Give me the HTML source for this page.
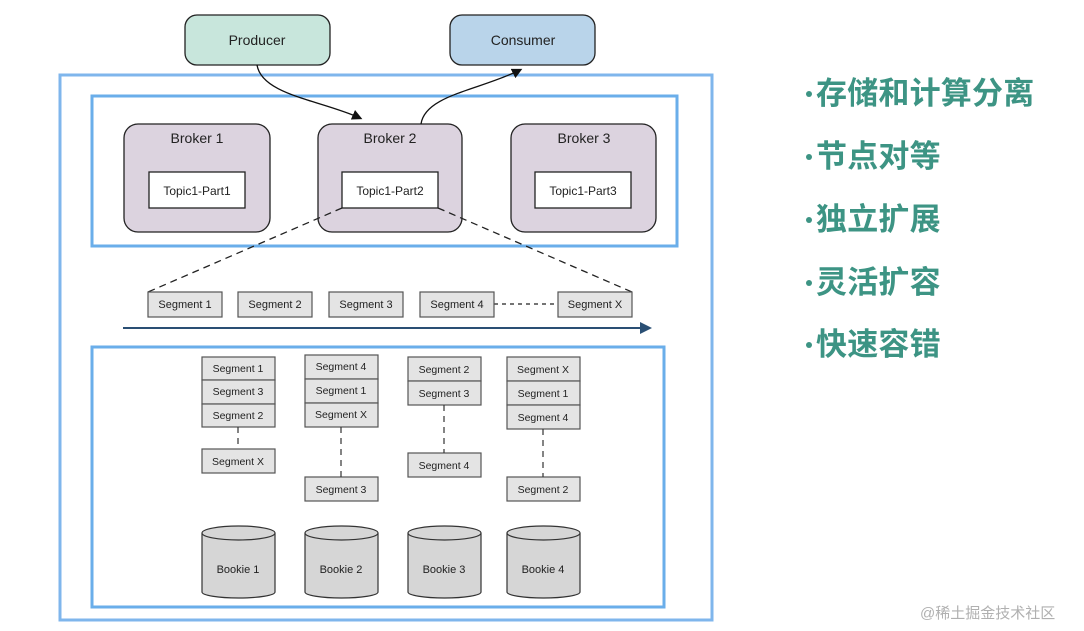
<!DOCTYPE html>
<html><head><meta charset="utf-8"><style>
html,body{margin:0;padding:0;background:#fff;width:1084px;height:631px;overflow:hidden}
svg{display:block}
.t{font-family:"Liberation Sans",sans-serif;fill:#222}
.cn{font-family:"Liberation Sans","Noto Sans CJK SC",sans-serif;font-weight:bold;fill:#3d9484;font-size:31px;letter-spacing:0.2px}
</style></head><body>
<svg width="1084" height="631" viewBox="0 0 1084 631">
<defs><marker id="ah" markerWidth="8" markerHeight="8" refX="6" refY="4" orient="auto"><path d="M0,0 L8,4 L0,8 z" fill="#111"/></marker>
<marker id="ab" markerWidth="6" markerHeight="6" refX="5" refY="3" orient="auto"><path d="M0,0 L6,3 L0,6 z" fill="#2a4f74"/></marker></defs>
<rect x="185" y="15" width="145" height="50" rx="12" fill="#c8e6dc" stroke="#222" stroke-width="1.3"/>
<text class="t" x="257" y="45" font-size="14" text-anchor="middle">Producer</text>
<rect x="450" y="15" width="145" height="50" rx="12" fill="#b9d4ea" stroke="#222" stroke-width="1.3"/>
<text class="t" x="523" y="45" font-size="14" text-anchor="middle">Consumer</text>
<rect x="60" y="75" width="652" height="545" fill="none" stroke="#7fb6ec" stroke-width="3"/>
<rect x="92" y="96" width="585" height="150" fill="none" stroke="#6aaeea" stroke-width="3"/>
<g stroke="#222" stroke-width="1.3">
<rect x="124" y="124" width="146" height="108" rx="14" fill="#dcd3df"/>
<rect x="318" y="124" width="144" height="108" rx="14" fill="#dcd3df"/>
<rect x="511" y="124" width="145" height="108" rx="14" fill="#dcd3df"/>
<rect x="149" y="172" width="96" height="36" fill="#fff"/>
<rect x="342" y="172" width="96" height="36" fill="#fff"/>
<rect x="535" y="172" width="96" height="36" fill="#fff"/>
</g>
<g class="t" font-size="14" text-anchor="middle">
<text x="197" y="143">Broker 1</text><text x="390" y="143">Broker 2</text><text x="584" y="143">Broker 3</text>
</g>
<g class="t" font-size="12" text-anchor="middle">
<text x="197" y="195">Topic1-Part1</text><text x="390" y="195">Topic1-Part2</text><text x="583" y="195">Topic1-Part3</text>
</g>
<path d="M257,65 C262,95 320,100 360,118" fill="none" stroke="#111" stroke-width="1.3" marker-end="url(#ah)"/>
<path d="M421,124 C425,95 480,90 520,70" fill="none" stroke="#111" stroke-width="1.3" marker-end="url(#ah)"/>
<g stroke="#222" stroke-width="1.3" stroke-dasharray="7,5" fill="none">
<line x1="342" y1="208" x2="148" y2="292"/>
<line x1="438" y1="208" x2="632" y2="292"/>
<line x1="494" y1="304" x2="558" y2="304" stroke-dasharray="4,4"/>
</g>
<g stroke="#555" stroke-width="1.2" fill="#e4e4e4">
<rect x="148" y="292" width="74" height="25"/><rect x="238" y="292" width="74" height="25"/>
<rect x="329" y="292" width="74" height="25"/><rect x="420" y="292" width="74" height="25"/>
<rect x="558" y="292" width="74" height="25"/>
</g>
<g class="t" font-size="11" text-anchor="middle">
<text x="185" y="308">Segment 1</text><text x="275" y="308">Segment 2</text><text x="366" y="308">Segment 3</text><text x="457" y="308">Segment 4</text><text x="595" y="308">Segment X</text>
</g>
<line x1="123" y1="328" x2="650" y2="328" stroke="#2a4f74" stroke-width="2" marker-end="url(#ab)"/>
<rect x="92" y="347" width="572" height="260" fill="none" stroke="#6aaeea" stroke-width="3"/>
<g stroke="#555" stroke-width="1.2" fill="#e4e4e4">
<rect x="202" y="357" width="73" height="23"/><rect x="202" y="380" width="73" height="24"/><rect x="202" y="404" width="73" height="23"/>
<rect x="202" y="449" width="73" height="24"/>
<rect x="305" y="355" width="73" height="24"/><rect x="305" y="379" width="73" height="24"/><rect x="305" y="403" width="73" height="24"/>
<rect x="305" y="477" width="73" height="24"/>
<rect x="408" y="357" width="73" height="24"/><rect x="408" y="381" width="73" height="24"/>
<rect x="408" y="453" width="73" height="24"/>
<rect x="507" y="357" width="73" height="24"/><rect x="507" y="381" width="73" height="24"/><rect x="507" y="405" width="73" height="24"/>
<rect x="507" y="477" width="73" height="24"/>
</g>
<g stroke="#333" stroke-width="1.2" stroke-dasharray="6,5">
<line x1="238" y1="427" x2="238" y2="449"/><line x1="341" y1="427" x2="341" y2="477"/>
<line x1="444" y1="405" x2="444" y2="453"/><line x1="543" y1="429" x2="543" y2="477"/>
</g>
<g class="t" font-size="10.5" text-anchor="middle">
<text x="238" y="372">Segment 1</text><text x="238" y="395">Segment 3</text><text x="238" y="419">Segment 2</text><text x="238" y="465">Segment X</text>
<text x="341" y="370">Segment 4</text><text x="341" y="394">Segment 1</text><text x="341" y="418">Segment X</text><text x="341" y="493">Segment 3</text>
<text x="444" y="373">Segment 2</text><text x="444" y="397">Segment 3</text><text x="444" y="469">Segment 4</text>
<text x="543" y="373">Segment X</text><text x="543" y="397">Segment 1</text><text x="543" y="421">Segment 4</text><text x="543" y="493">Segment 2</text>
</g>
<g stroke="#333" stroke-width="1.2" fill="#d6d6d6">
<path d="M202,533 V592 A36.5,6 0 0 0 275,592 V533"/><ellipse cx="238.5" cy="533" rx="36.5" ry="7"/>
<path d="M305,533 V592 A36.5,6 0 0 0 378,592 V533"/><ellipse cx="341.5" cy="533" rx="36.5" ry="7"/>
<path d="M408,533 V592 A36.5,6 0 0 0 481,592 V533"/><ellipse cx="444.5" cy="533" rx="36.5" ry="7"/>
<path d="M507,533 V592 A36.5,6 0 0 0 580,592 V533"/><ellipse cx="543.5" cy="533" rx="36.5" ry="7"/>
</g>
<g class="t" font-size="11" text-anchor="middle">
<text x="238" y="573">Bookie 1</text><text x="341" y="573">Bookie 2</text><text x="444" y="573">Bookie 3</text><text x="543" y="573">Bookie 4</text>
</g>
<g class="cn">
<circle cx="809" cy="94" r="3" fill="#3d9484"/><text x="816" y="104">存储和计算分离</text>
<circle cx="809" cy="157" r="3" fill="#3d9484"/><text x="816" y="167">节点对等</text>
<circle cx="809" cy="220" r="3" fill="#3d9484"/><text x="816" y="230">独立扩展</text>
<circle cx="809" cy="283" r="3" fill="#3d9484"/><text x="816" y="293">灵活扩容</text>
<circle cx="809" cy="345" r="3" fill="#3d9484"/><text x="816" y="355">快速容错</text>
</g>
<text x="920" y="618" font-size="15" fill="#b0b0b0" font-family="Liberation Sans,'Noto Sans CJK SC',sans-serif">@稀土掘金技术社区</text>
</svg>
</body></html>
